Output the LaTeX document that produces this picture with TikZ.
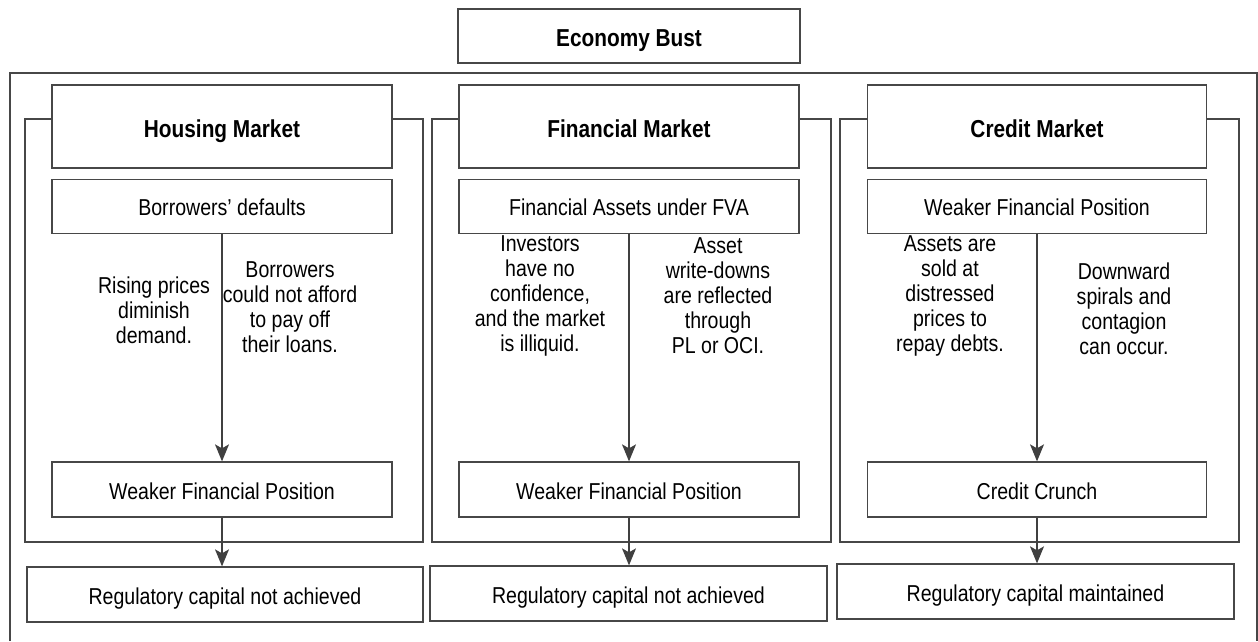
\documentclass[tikz,border=0pt]{standalone}
\usepackage{fontspec}
\setmainfont{Liberation Sans}[FakeStretch=0.85]
\usetikzlibrary{arrows.meta,positioning}

\begin{document}
\begin{tikzpicture}[
  x=1pt, y=-1pt,
  frm/.style={draw=black!72, line width=1.3pt},
  hdr/.style={frm, fill=white, minimum width=340pt, minimum height=83pt, text height=21pt, text depth=0pt, font=\fontsize{24.5}{25}\selectfont\bfseries},
  box/.style={frm, fill=white, minimum width=340pt, minimum height=54pt, text height=19pt, text depth=0pt, font=\fontsize{23}{25}\selectfont},
  grp/.style={frm, minimum width=398pt, minimum height=423pt},
  regbox/.style={frm, minimum width=396pt, minimum height=55pt, text height=19pt, text depth=0pt, font=\fontsize{23}{25}\selectfont},
  txt/.style={align=center, inner sep=0pt, font=\fontsize{23}{25}\selectfont},
  arr/.style={draw=black!75, line width=1.4pt, -{Stealth[length=17pt, width=14pt, inset=4pt]}}
]
  \useasboundingbox (0,0) rectangle (1258,641);

  % top box and outer frame
  \node[hdr, minimum width=342pt, minimum height=54pt] (bust) at (629,36) {Economy Bust};
  \draw[frm] (10,641) -- (10,73) -- (1257,73) -- (1257,641);

  % market panels
  \node[grp] (hpanel) at (224,330.5) {};
  \node[grp, minimum width=399pt] (fpanel) at (631.5,330.5) {};
  \node[grp, minimum width=399pt] (cpanel) at (1039.5,330.5) {};

  % housing market
  \node[hdr] (hhead) at (222,126.5) {Housing Market};
  \node[box, below=10pt of hhead] (hdef) {Borrowers’ defaults};
  \node[box, minimum height=55pt] (hweak) at (222,489.5) {Weaker Financial Position};
  \node[regbox] (hreg) at (225,594.5) {Regulatory capital not achieved};
  \node[txt] (hleft) at (154,310) {Rising prices\\diminish\\demand.};
  \node[txt] (hright) at (290,307.5) {Borrowers\\could not afford\\to pay off\\their loans.};

  % financial market
  \node[hdr] (fhead) at (629,126.5) {Financial Market};
  \node[box, below=10pt of fhead] (fval) {Financial Assets under FVA};
  \node[box, minimum height=55pt] (fweak) at (629,489.5) {Weaker Financial Position};
  \node[regbox, minimum width=397pt] (freg) at (628.5,593.5) {Regulatory capital not achieved};
  \node[txt] (fleft) at (540,296) {Investors\\have no\\confidence,\\and the market\\is illiquid.};
  \node[txt] (fright) at (718,296) {Asset\\write-downs\\are reflected\\through\\PL or OCI.};

  % credit market
  \node[hdr, minimum width=339pt] (chead) at (1037,126.5) {Credit Market};
  \node[box, minimum width=339pt, below=10pt of chead] (cpos) {Weaker Financial Position};
  \node[box, minimum width=339pt, minimum height=55pt] (ccrunch) at (1037,489.5) {Credit Crunch};
  \node[regbox, minimum width=397pt] (creg) at (1035.5,591.5) {Regulatory capital maintained};
  \node[txt] (cleft) at (950,296) {Assets are\\sold at\\distressed\\prices to\\repay debts.};
  \node[txt] (cright) at (1124,308.5) {Downward\\spirals and\\contagion\\can occur.};

  \draw[arr] (hdef) -- (hweak);
  \draw[arr] (hweak.south) -- (hweak.south |- hreg.north);
  \draw[arr] (fval) -- (fweak);
  \draw[arr] (fweak.south) -- (fweak.south |- freg.north);
  \draw[arr] (cpos) -- (ccrunch);
  \draw[arr] (ccrunch.south) -- (ccrunch.south |- creg.north);
\end{tikzpicture}
\end{document}
